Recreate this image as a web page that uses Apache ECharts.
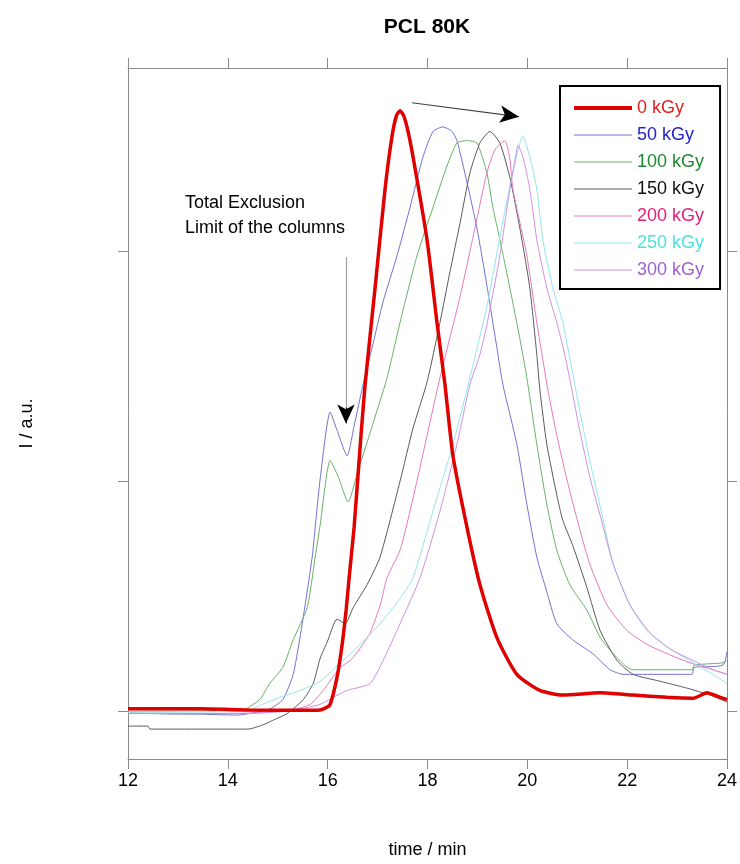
<!DOCTYPE html>
<html>
<head>
<meta charset="utf-8">
<script src="https://cdn.jsdelivr.net/npm/echarts@6/dist/echarts.min.js"></script>
<style>
  html, body { margin: 0; padding: 0; background: #fff; }
  #chart { width: 740px; height: 864px; }
</style>
</head>
<body>
<div id="chart"></div>
<script>
// doses in the legend order
const doses = ['0 kGy', '50 kGy', '100 kGy', '150 kGy', '200 kGy', '250 kGy', '300 kGy'];

// time / min and intensity (a.u.)
const t0 = [12, 13.44, 14.44, 15.45, 15.81, 15.95, 16.05, 16.19, 16.29, 16.37, 16.43, 16.53, 16.64, 16.75, 16.95, 17.15, 17.29, 17.38, 17.45, 17.52, 17.60, 17.71, 17.99, 18.19, 18.35, 18.51, 18.79, 19.05, 19.39, 19.79, 20.25, 20.71, 21.46, 22.12, 22.80, 23.32, 23.60, 23.80, 24.0];
const i0 = [0.01, 0.01, 0.005, 0.004, 0.004, 0.013, 0.03, 0.15, 0.29, 0.44, 0.58, 0.80, 1.12, 1.42, 1.84, 2.27, 2.50, 2.59, 2.61, 2.59, 2.53, 2.41, 2.05, 1.69, 1.42, 1.11, 0.80, 0.55, 0.32, 0.16, 0.09, 0.07, 0.08, 0.07, 0.06, 0.056, 0.08, 0.065, 0.05];

const t50 = [12.0, 13.08, 13.38, 14.18, 14.84, 15.10, 15.31, 15.49, 15.69, 15.75, 15.85, 16.05, 16.19, 16.39, 16.53, 16.71, 16.89, 17.11, 17.39, 17.65, 17.91, 18.11, 18.31, 18.49, 18.59, 18.79, 18.99, 19.19, 19.39, 19.51, 19.79, 19.99, 20.19, 20.39, 20.59, 20.91, 21.31, 21.66, 21.92, 23.30, 23.34, 23.92, 24.0];
const i50 = [-0.008, -0.013, -0.013, -0.017, 0.01, 0.05, 0.16, 0.38, 0.67, 0.80, 1.01, 1.30, 1.22, 1.11, 1.24, 1.42, 1.58, 1.78, 1.98, 2.19, 2.41, 2.52, 2.54, 2.52, 2.48, 2.30, 2.10, 1.85, 1.58, 1.42, 1.16, 0.90, 0.67, 0.52, 0.38, 0.31, 0.25, 0.18, 0.16, 0.16, 0.19, 0.20, 0.26];

const t100 = [12.0, 14.30, 14.44, 14.64, 14.84, 15.10, 15.31, 15.59, 15.75, 15.85, 16.05, 16.21, 16.41, 16.60, 16.85, 17.19, 17.45, 17.79, 18.11, 18.39, 18.59, 18.79, 18.99, 19.19, 19.31, 19.45, 19.65, 19.85, 19.99, 20.19, 20.39, 20.59, 20.85, 21.19, 21.46, 21.72, 22.00, 22.12, 23.30, 23.34, 23.92, 24.0];
const i100 = [0.0, 0.004, 0.02, 0.05, 0.12, 0.19, 0.31, 0.45, 0.67, 0.81, 1.09, 1.02, 0.91, 1.04, 1.21, 1.45, 1.69, 1.98, 2.19, 2.37, 2.47, 2.48, 2.47, 2.34, 2.19, 2.05, 1.84, 1.62, 1.45, 1.16, 0.90, 0.70, 0.55, 0.44, 0.32, 0.25, 0.19, 0.18, 0.18, 0.20, 0.21, 0.22];

const t150 = [12.0, 12.40, 12.44, 14.40, 14.70, 14.90, 15.19, 15.51, 15.71, 15.85, 15.99, 16.19, 16.35, 16.51, 16.79, 17.05, 17.45, 17.71, 17.99, 18.25, 18.45, 18.65, 18.85, 19.05, 19.25, 19.45, 19.65, 19.85, 20.05, 20.19, 20.25, 20.39, 20.59, 20.71, 20.91, 21.19, 21.46, 21.80, 22.12, 22.66, 23.20, 23.66, 24.0];
const i150 = [-0.065, -0.065, -0.078, -0.078, -0.06, -0.04, -0.01, 0.05, 0.12, 0.23, 0.30, 0.40, 0.38, 0.45, 0.55, 0.67, 1.0, 1.23, 1.43, 1.69, 1.91, 2.12, 2.34, 2.47, 2.52, 2.47, 2.32, 2.10, 1.84, 1.55, 1.40, 1.16, 0.94, 0.83, 0.72, 0.54, 0.35, 0.22, 0.16, 0.13, 0.10, 0.07, 0.04];

const t200 = [12.0, 14.0, 15.19, 15.65, 15.91, 16.25, 16.45, 16.64, 16.85, 17.05, 17.19, 17.45, 17.65, 17.85, 18.25, 18.65, 18.95, 19.19, 19.35, 19.55, 19.65, 19.71, 19.99, 20.19, 20.41, 20.59, 20.79, 20.99, 21.25, 21.60, 22.00, 22.40, 22.80, 23.26, 23.72, 24.0];
const i200 = [-0.01, -0.01, 0.0, 0.03, 0.09, 0.19, 0.22, 0.27, 0.34, 0.46, 0.58, 0.70, 0.87, 1.06, 1.45, 1.80, 2.10, 2.34, 2.44, 2.48, 2.40, 2.27, 1.98, 1.69, 1.40, 1.20, 1.01, 0.84, 0.64, 0.46, 0.35, 0.29, 0.25, 0.21, 0.18, 0.16];

const t250 = [12.0, 14.38, 14.70, 15.04, 15.45, 15.85, 16.25, 16.51, 17.05, 17.45, 17.71, 18.11, 18.51, 18.85, 19.19, 19.51, 19.71, 19.91, 20.05, 20.19, 20.31, 20.51, 20.71, 20.95, 21.10, 21.25, 21.46, 21.72, 22.06, 22.40, 22.80, 23.32, 23.72, 24.0];
const i250 = [-0.005, 0.0, 0.03, 0.06, 0.09, 0.13, 0.21, 0.26, 0.38, 0.49, 0.58, 0.87, 1.16, 1.45, 1.76, 2.13, 2.34, 2.50, 2.41, 2.27, 2.05, 1.84, 1.69, 1.42, 1.25, 1.09, 0.89, 0.64, 0.46, 0.35, 0.28, 0.21, 0.16, 0.12];

const t300 = [12.0, 14.5, 15.45, 15.85, 16.11, 16.39, 16.85, 17.11, 17.45, 17.85, 18.25, 18.59, 18.85, 19.05, 19.19, 19.45, 19.65, 19.79, 19.81, 19.91, 20.05, 20.19, 20.39, 20.59, 20.75, 20.89, 21.05, 21.25, 21.46, 21.72, 22.06, 22.46, 22.86, 23.32, 23.72, 24.0];
const i300 = [-0.01, -0.01, 0.01, 0.03, 0.06, 0.09, 0.12, 0.22, 0.38, 0.58, 0.87, 1.16, 1.42, 1.55, 1.68, 1.98, 2.27, 2.44, 2.46, 2.41, 2.27, 2.05, 1.84, 1.69, 1.55, 1.40, 1.22, 1.02, 0.85, 0.64, 0.46, 0.34, 0.27, 0.22, 0.18, 0.16];

const xTicks = [12, 14, 16, 18, 20, 22, 24];
const yTicks = [0, 1, 2];

const lineColors = ['#e00000', '#7272d2', '#68b268', '#5a5a5a', '#e67ab8', '#90e6ec', '#cc90e4'];
const textColors = ['#e0201c', '#2222c8', '#1e8a2e', '#111111', '#e0207a', '#4ee0e0', '#a062d0'];

const times = [t0, t50, t100, t150, t200, t250, t300];
const values = [i0, i50, i100, i150, i200, i250, i300];

const FONT = 'Liberation Sans';
const chart = echarts.init(document.getElementById('chart'), null, { renderer: 'canvas' });

const series = doses.map((name, k) => ({
  name: name,
  type: 'line',
  showSymbol: false,
  symbol: 'none',
  smooth: 0.2,
  z: k === 0 ? 5 : 2,
  lineStyle: { color: lineColors[k], width: k === 0 ? 3.5 : 1 },
  itemStyle: { color: lineColors[k] },
  data: times[k].map((t, j) => [t, values[k][j]])
}));

// arrows: grey shafts, black heads
const shaft = (a, b, color) => [
  { coord: a, symbol: 'none', lineStyle: { color: color, width: 1.2, type: 'solid' } },
  { coord: b, symbol: 'none' }
];
const head = (a, b) => [
  { coord: a, symbol: 'none', lineStyle: { color: '#000', width: 1, type: 'solid' } },
  { coord: b, symbol: 'arrow', symbolSize: [13, 19] }
];
series.push({
  type: 'line',
  name: 'arrows',
  data: [],
  silent: true,
  markLine: {
    silent: true,
    animation: false,
    label: { show: false },
    symbol: ['none', 'none'],
    data: [
      shaft([16.367, 1.974], [16.367, 1.30], '#a0a0a0'),
      head([16.367, 1.32], [16.367, 1.251]),
      shaft([17.689, 2.645], [19.70, 2.588], '#444'),
      head([19.60, 2.591], [19.833, 2.584])
    ]
  }
});

const axisGrey = '#8a8a8a';
const frameAxis = (pos) => ({
  type: 'value', position: pos,
  axisLine: { show: true, onZero: false, lineStyle: { color: axisGrey, width: 1 } },
  axisTick: { show: true, inside: false, length: 10, lineStyle: { color: axisGrey } },
  axisLabel: { show: false },
  splitLine: { show: false }
});

const xBottom = Object.assign(frameAxis('bottom'), {
  min: 12, max: 24, interval: 2,
  name: 'time / min', nameLocation: 'middle', nameGap: 82,
  nameTextStyle: { fontFamily: FONT, fontSize: 18, color: '#000' },
  axisLabel: { show: true, fontFamily: FONT, fontSize: 18, color: '#000', margin: 13,
    formatter: v => xTicks.indexOf(v) >= 0 ? String(v) : '' }
});
const xTop = Object.assign(frameAxis('top'), { min: 12, max: 24, interval: 2 });
const yLeft = Object.assign(frameAxis('left'), {
  min: -0.208, max: 2.796,
  name: 'I / a.u.', nameLocation: 'middle', nameGap: 92,
  nameTextStyle: { fontFamily: FONT, fontSize: 18, color: '#000', padding: [0, 20, 0, 0] }
});
yLeft.axisTick.customValues = yTicks;
const yRight = Object.assign(frameAxis('right'), { min: -0.208, max: 2.796 });
yRight.axisTick.customValues = yTicks;

chart.setOption({
  animation: false,
  backgroundColor: '#fff',
  textStyle: { fontFamily: FONT },
  grid: { left: 128, right: 13, top: 68, bottom: 102 },
  legend: {
    orient: 'vertical',
    left: 560,
    top: 86,
    padding: [13, 16, 10, 12],
    itemWidth: 58,
    itemHeight: 14,
    itemGap: 9,
    borderColor: '#000',
    borderWidth: 2,
    backgroundColor: '#fff',
    selectedMode: false,
    itemStyle: { opacity: 0 },
    textStyle: { fontFamily: FONT, fontSize: 18, lineHeight: 18 },
    data: doses.map((d, k) => ({
      name: d,
      lineStyle: { width: k === 0 ? 4 : 1 },
      textStyle: { color: textColors[k] }
    }))
  },
  xAxis: [xBottom, xTop],
  yAxis: [yLeft, yRight],
  graphic: [
    { type: 'text', x: 427, y: 17, style: { text: 'PCL 80K', fill: '#000', font: 'bold 21px "Liberation Sans"', textAlign: 'center' } },
    { type: 'text', x: 185, y: 191, style: { text: 'Total Exclusion\nLimit of the columns', fill: '#000', font: '18px "Liberation Sans"', lineHeight: 25 } }
  ],
  series: series
});
</script>
</body>
</html>
